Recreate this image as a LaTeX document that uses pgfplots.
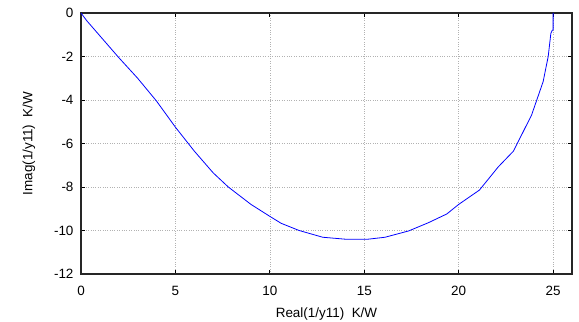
\documentclass[border=0pt]{standalone}
\usepackage{fontspec}
\setmainfont{Liberation Sans}
\usepackage{pgfplots}
\pgfplotsset{compat=1.18}
\usetikzlibrary{calc}
\begin{document}
\begin{tikzpicture}
\begin{axis}[name=ax,
  scale only axis, width=491bp, height=261bp,
  xmin=0, xmax=26, ymin=-12, ymax=0,
  xtick={0,5,10,15,20,25}, ytick={-12,-10,-8,-6,-4,-2,0},
  tick align=inside, major tick length=4bp,
  grid=major, grid style={dotted, gray!60},
  axis line style={black!85, line width=1.1pt},
  tick style={black, line width=0.8pt},
  /pgf/number format/assume math mode=true,
  tick label style={font=\fontsize{13.5}{15}\selectfont},
  xticklabel style={yshift=-9bp},
  yticklabel style={xshift=-4bp},
  label style={font=\fontsize{13.5}{15}\selectfont},
  xlabel={Real(1/y11)\ \ K/W},
  ylabel={Imag(1/y11)\ \ K/W},
  xlabel style={yshift=-5bp},
  ylabel style={yshift=12bp},
]
\addplot[blue, line width=0.8pt, no markers] coordinates {
(0,0) (0.3,-0.35) (1,-1.05) (2,-2.05) (3,-3.0) (4,-4.05) (5,-5.25) (6,-6.35) (7,-7.35) (7.8,-8)
(9,-8.8) (10,-9.35) (10.6,-9.67) (11.55,-10.0) (12.8,-10.31) (14.0,-10.4) (15.2,-10.4)
(16.1,-10.31) (17.35,-10.02) (18.4,-9.64) (19.37,-9.24) (20.0,-8.8) (21.1,-8.14)
(22.1,-7.07) (22.9,-6.35) (23.86,-4.69) (24.47,-3.16) (24.74,-2.0) (24.88,-0.94)
(24.95,-0.8) (25.0,-0.78) (25.0,0)
};
\end{axis}
\pgfresetboundingbox
\path[use as bounding box] ($(ax.south west)+(-81bp,-48bp)$) rectangle ($(ax.north east)+(7bp,13bp)$);
\end{tikzpicture}
\end{document}
